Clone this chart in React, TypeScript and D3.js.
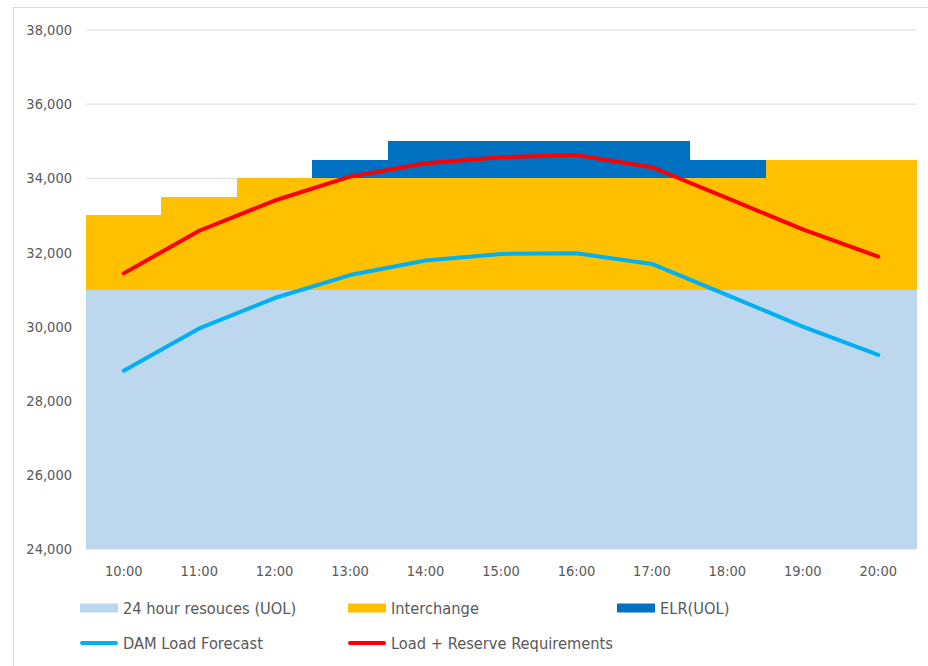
import React from "react";
import * as d3 from "d3";

const hours = ["10:00", "11:00", "12:00", "13:00", "14:00", "15:00", "16:00", "17:00", "18:00", "19:00", "20:00"];
const resources24 = [31000, 31000, 31000, 31000, 31000, 31000, 31000, 31000, 31000, 31000, 31000];
const interchange = [2000, 2500, 3000, 3000, 3000, 3000, 3000, 3000, 3000, 3500, 3500];
const elr = [0, 0, 0, 500, 1000, 1000, 1000, 1000, 500, 0, 0];
const damLoad = [28810, 29950, 30770, 31390, 31780, 31960, 31975, 31690, 30850, 30000, 29235];
const loadReserve = [31435, 32585, 33400, 34045, 34405, 34566, 34625, 34298, 33465, 32622, 31886];
const yTicks = [24000, 26000, 28000, 30000, 32000, 34000, 36000, 38000];

const barSeries = [
  { key: "res", label: "24 hour resouces (UOL)", color: "#BDD7EE", values: resources24 },
  { key: "int", label: "Interchange", color: "#FFC000", values: interchange },
  { key: "elr", label: "ELR(UOL)", color: "#0070C0", values: elr },
];
const lineSeries = [
  { label: "DAM Load Forecast", color: "#00B0F0", values: damLoad },
  { label: "Load + Reserve Requirements", color: "#FF0000", values: loadReserve },
];

const FONT = "'Liberation Sans Narrow', 'DejaVu Sans Condensed', 'Liberation Sans', sans-serif";
const TXT = "#595959";

export default function App() {
  const W = 928, H = 666;
  const x = d3.scaleBand<string>().domain(hours).range([86, 916]).padding(0);
  const y = d3.scaleLinear().domain([24000, 38000]).range([549, 30]).clamp(true);
  const rows = hours.map((h, i) => {
    const r: any = { h };
    barSeries.forEach((s) => (r[s.key] = s.values[i]));
    return r;
  });
  const stacked = d3.stack<any>().keys(barSeries.map((s) => s.key))(rows);
  const line = d3
    .line<number>()
    .x((_, i) => (x(hours[i]) as number) + x.bandwidth() / 2)
    .y((v) => y(v));

  const legendRow1 = [80, 348, 617];
  return (
    <svg width={W} height={H} style={{ position: "absolute", left: 0, top: 0, background: "#fff" }} fontFamily={FONT}>
      <rect x={13.5} y={7.5} width={W} height={H} fill="none" stroke="#d9d9d9" />
      {yTicks.map((t) => (
        <g key={t}>
          <line x1={86} x2={916} y1={y(t)} y2={y(t)} stroke="#d9d9d9" strokeWidth={1} />
          <text x={72} y={y(t)} dy="0.35em" textAnchor="end" fontSize={14.5} fill={TXT}>
            {d3.format(",")(t)}
          </text>
        </g>
      ))}
      {stacked.map((layer, li) => (
        <g key={layer.key} fill={barSeries[li].color} shapeRendering="crispEdges">
          {layer.map((d, i) =>
            d[1] - d[0] > 0 ? (
              <rect
                key={i}
                x={x(hours[i]) as number}
                width={x.bandwidth() + 0.5}
                y={y(d[1])}
                height={y(d[0]) - y(d[1])}
              />
            ) : null
          )}
        </g>
      ))}
      {lineSeries.map((s) => (
        <path
          key={s.label}
          d={line(s.values) || ""}
          fill="none"
          stroke={s.color}
          strokeWidth={4}
          strokeLinecap="round"
          strokeLinejoin="round"
        />
      ))}
      {hours.map((h) => (
        <text
          key={h}
          x={(x(h) as number) + x.bandwidth() / 2}
          y={571}
          dy="0.35em"
          textAnchor="middle"
          fontSize={14.5}
          fill={TXT}
        >
          {h}
        </text>
      ))}
      {barSeries.map((s, i) => (
        <g key={s.key} transform={`translate(${legendRow1[i]},608)`}>
          <rect x={0} y={-4.5} width={38} height={9} fill={s.color} />
          <text x={43} dy="0.35em" fontSize={16.3} fill={TXT}>
            {s.label}
          </text>
        </g>
      ))}
      {lineSeries.map((s, i) => (
        <g key={s.label} transform={`translate(${legendRow1[i]},643)`}>
          <line x1={2} x2={36} y1={0} y2={0} stroke={s.color} strokeWidth={4} strokeLinecap="round" />
          <text x={43} dy="0.35em" fontSize={16.3} fill={TXT}>
            {s.label}
          </text>
        </g>
      ))}
    </svg>
  );
}
